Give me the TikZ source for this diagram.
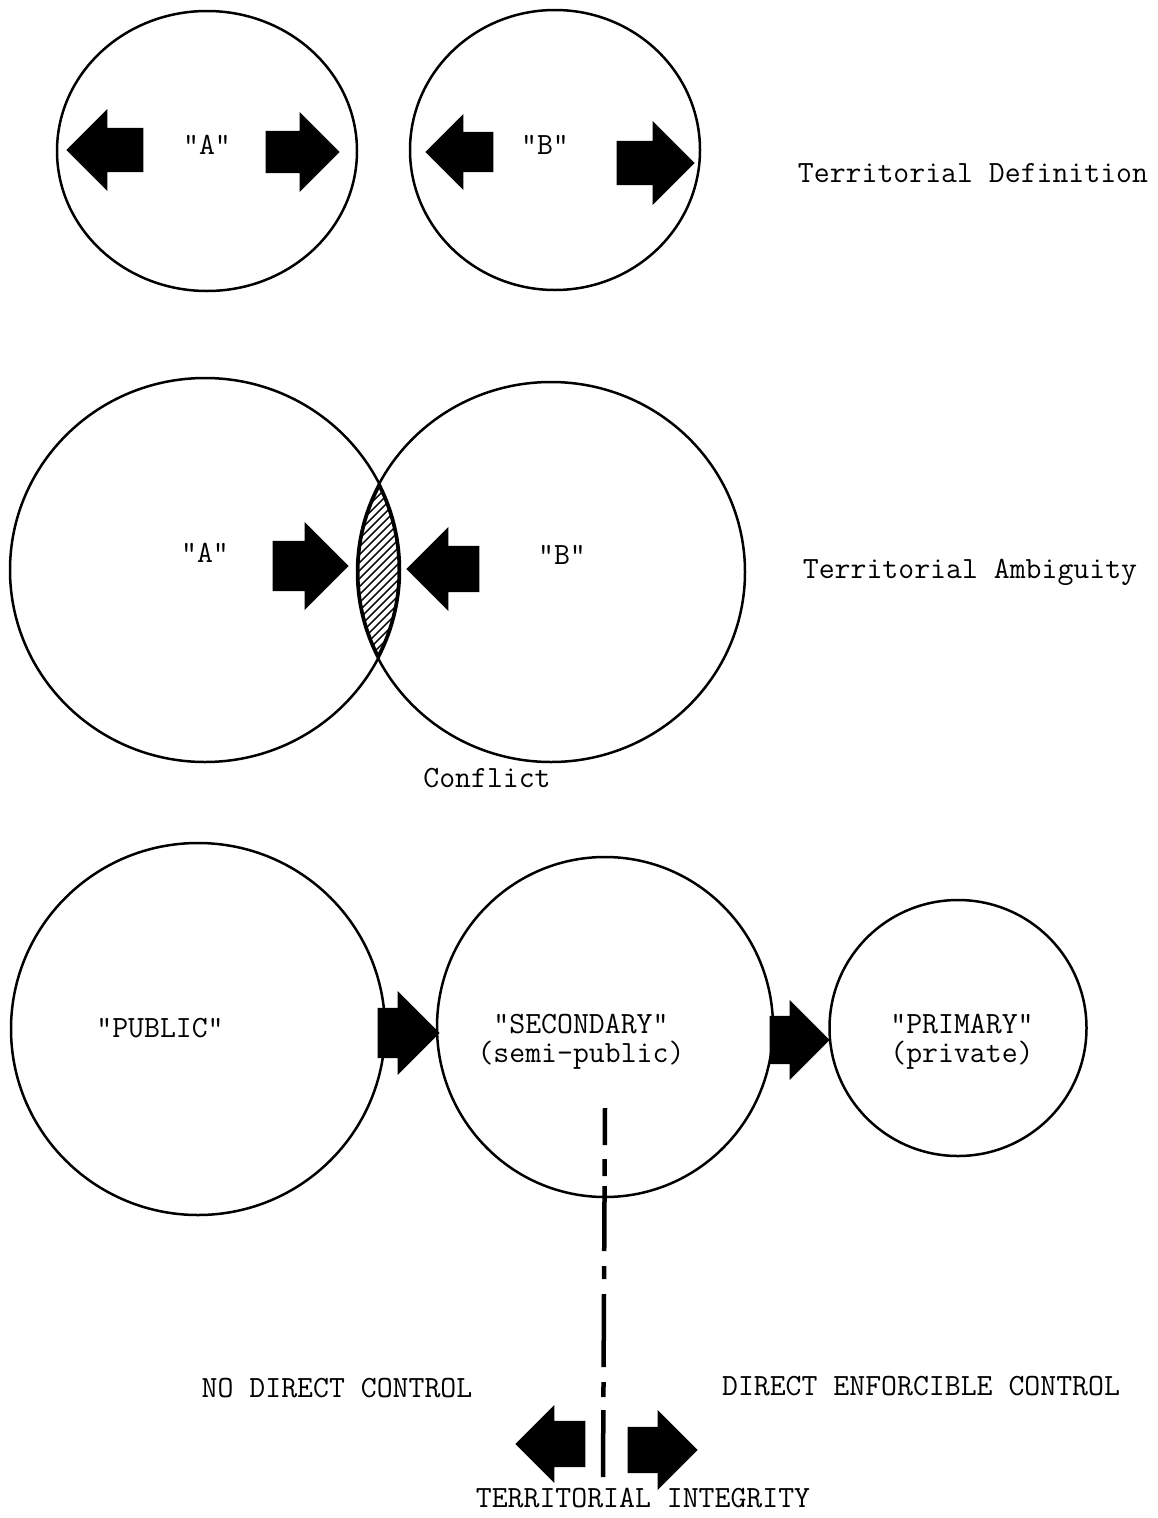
\documentclass[tikz,border=0pt]{standalone}
\usetikzlibrary{shapes.geometric,shapes.arrows}
\tikzset{
  terr/.style={ellipse, draw, line width=2.5pt, inner sep=0pt},
  blk/.style n args={3}{single arrow, fill=black, inner xsep=0pt, inner ysep=#1,
    single arrow head extend=#2, minimum height=#3, minimum width=1pt, anchor=tip},
  lbl/.style={font=\ttfamily\fontsize{30.9}{29}\selectfont, align=center, inner sep=0pt}
}
\begin{document}
\begin{tikzpicture}[x=1pt, y=-1pt]
      \useasboundingbox (0,0) rectangle (1158,1518);
      \node[terr, minimum width=300pt, minimum height=280pt] (defA) at (207,151) {};
      \node[terr, minimum width=290pt, minimum height=280pt] (defB) at (555,150) {};
      \node[terr, minimum width=390pt, minimum height=384pt] (ambA) at (205,570) {};
      \node[terr, minimum width=388pt, minimum height=380pt] (ambB) at (551,572) {};
      \node[terr, minimum width=374pt, minimum height=372pt] (pub) at (198,1029) {};
      \node[terr, minimum width=336pt, minimum height=340pt] (sec) at (605,1027) {};
      \node[terr, minimum width=257pt, minimum height=256pt] (prim) at (958,1028) {};
      \begin{scope}
        \clip (ambA.center) ellipse [x radius=195pt, y radius=192pt];
        \clip (ambB.center) ellipse [x radius=194pt, y radius=190pt];
        \foreach \k in {130,138,...,420}
          \draw[line width=1.4pt] (\k,680) -- ++(220,-220);
        \draw[line width=5pt] (ambA.center) ellipse [x radius=195pt, y radius=192pt];
        \draw[line width=5pt] (ambB.center) ellipse [x radius=194pt, y radius=190pt];
      \end{scope}
      \node[blk={22pt}{19pt}{77pt}, shape border rotate=180] (defAl) at (66,150) {};
      \node[blk={21pt}{19pt}{74pt}] (defAr) at (340,152) {};
      \node[blk={20pt}{18pt}{68pt}, shape border rotate=180] (defBl) at (425,152) {};
      \node[blk={22pt}{20pt}{78pt}] (defBr) at (695,163) {};
      \node[blk={25pt}{19pt}{76pt}] (ambAr) at (349,566) {};
      \node[blk={23pt}{19pt}{73pt}, shape border rotate=180] (ambBl) at (406,569) {};
      \node[blk={25pt}{17pt}{62pt}] (pubsec) at (440,1033) {};
      \node[blk={24pt}{16pt}{60pt}] (secprim) at (830,1040) {};
      \node[blk={23pt}{16pt}{70pt}, shape border rotate=180] (intL) at (515,1444) {};
      \node[blk={23pt}{17pt}{70pt}] (intR) at (698,1450) {};
      \coordinate (cutTop) at (605,1108);
      \coordinate (cutBot) at (603,1478);
      \draw[line width=4.5pt, dash pattern=on 37pt off 14pt on 17pt off 10pt on 65pt off 15pt on 13pt off 15pt on 73pt off 15pt on 15pt off 13pt on 67pt off 20pt]
        (cutTop) -- (cutBot);
      \node[lbl] (labA1) at (207,145) {"A"};
      \node[lbl] (labB1) at (545,145) {"B"};
      \node[lbl] (def) at (973,173) {Territorial Definition};
      \node[lbl] (labA2) at (205,553) {"A"};
      \node[lbl] (labB2) at (562,555) {"B"};
      \node[lbl] (amb) at (970,572) {Territorial Ambiguity};
      \node[lbl] (conf) at (487,778) {Conflict};
      \node[lbl] (labpub) at (160,1028) {"PUBLIC"};
      \node[lbl] (labsec) at (581,1042) {"SECONDARY"\\(semi-public)};
      \node[lbl] (labprim) at (962,1042) {"PRIMARY"\\(private)};
      \node[lbl] (nodir) at (337,1388) {NO DIRECT CONTROL};
      \node[lbl] (dir) at (921,1386) {DIRECT ENFORCIBLE CONTROL};
      \node[lbl] (integ) at (643,1498) {TERRITORIAL INTEGRITY};
    \end{tikzpicture}
\end{document}
